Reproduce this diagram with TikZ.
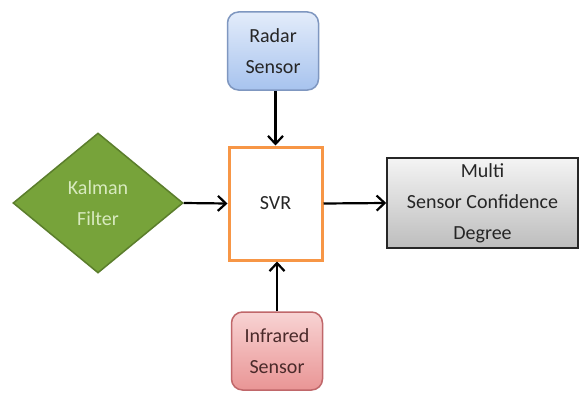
\documentclass[tikz,border=0pt]{standalone}
\usepackage{fontspec}
\setmainfont{Carlito}
\usetikzlibrary{shapes.geometric,arrows.meta}
\definecolor{radarborder}{HTML}{7F97C0}
\definecolor{radartop}{HTML}{E3ECFA}
\definecolor{radarbot}{HTML}{A7C3EE}
\definecolor{irborder}{HTML}{C0676A}
\definecolor{irtop}{HTML}{F8D3D3}
\definecolor{irbot}{HTML}{E99595}
\definecolor{irtext}{HTML}{4A2A2A}
\definecolor{kfill}{HTML}{77A33A}
\definecolor{kborder}{HTML}{5B7E2C}
\definecolor{ktext}{HTML}{D8EABF}
\definecolor{svrborder}{HTML}{F79646}
\definecolor{mtop}{HTML}{F4F4F4}
\definecolor{mbot}{HTML}{BDBDBD}
\definecolor{txt}{HTML}{262626}
\tikzset{
  lbl/.style={font=\fontsize{20}{31}\selectfont, align=center, text=txt},
  sensorbox/.style={lbl, rounded corners=11pt, line width=1.5pt, minimum width=91pt, minimum height=78pt, inner sep=0pt},
  conn/.style={line width=2.2pt, -{Straight Barb[length=8pt,width=15pt,line width=2.2pt]}}
}
\begin{document}
\begin{tikzpicture}[x=1pt,y=-1pt]
\useasboundingbox[fill=white] (0,0) rectangle (585,396);
\node[sensorbox, draw=radarborder, top color=radartop, bottom color=radarbot] (radar) at (273,51) {Radar\\Sensor};
\node[lbl, draw=svrborder, fill=white, line width=3pt, minimum width=93pt, minimum height=113pt, inner sep=0pt] (svr) at (275.5,203.5) {SVR};
\node[sensorbox, draw=irborder, top color=irtop, bottom color=irbot, text=irtext] (ir) at (277,351) {Infrared\\Sensor};
\node[lbl, diamond, draw=kborder, fill=kfill, text=ktext, line width=1.5pt, minimum width=170pt, minimum height=140pt, inner sep=0pt] (kal) at (98,203) {Kalman\\Filter};
\node[lbl, draw=black!85, line width=1.5pt, top color=mtop, bottom color=mbot, minimum width=191pt, minimum height=90pt, inner sep=0pt] (multi) at (482.5,203) {Multi\\Sensor Confidence\\Degree};
\draw[conn] (radar.south -| svr.north) -- (svr.north);
\draw[conn] (ir.north) -- (ir.north |- svr.south);
\draw[conn] (kal.east) -- (svr.west);
\draw[conn] (svr.east) -- (multi.west);
\end{tikzpicture}
\end{document}
